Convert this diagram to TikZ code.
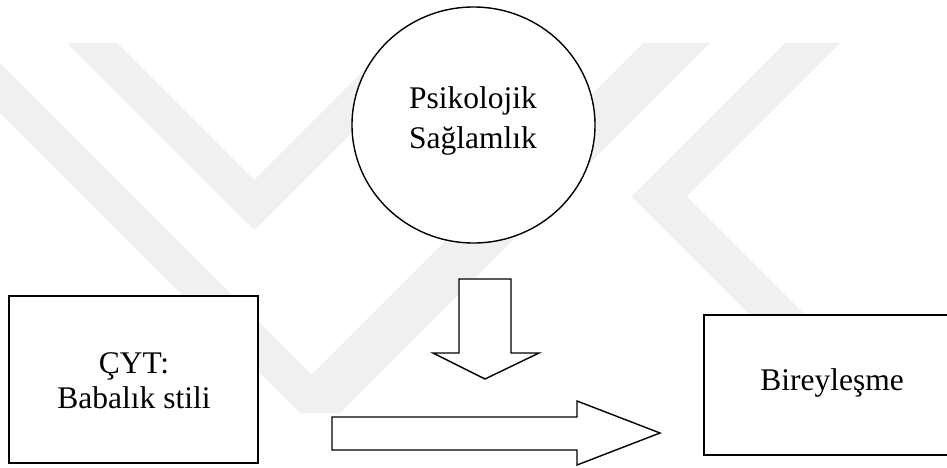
\documentclass[tikz,border=0pt]{standalone}
\usepackage{fontspec}
\setmainfont{Liberation Serif}
\usetikzlibrary{shapes.geometric}
\begin{document}
\begin{tikzpicture}[x=1pt,y=-1pt,
  wm/.style={fill=black!6,draw=none},
  blk/.style={draw=black,line width=1.4pt,fill=white},
  lbl/.style={font=\fontsize{31.5}{40}\selectfont,align=center,inner sep=0pt}]
\useasboundingbox (0,0) rectangle (947,468);
\fill[white] (0,0) rectangle (947,468);
% watermark
\begin{scope}
\clip (0,0) rectangle (947,468);
\fill[wm] (67,43) -- (117,43) -- (254,180) -- (391,43) -- (441,43) -- (254,230) -- cycle;
\fill[wm] (-70,43) -- (-20,43) -- (311.5,374.5) -- (643,43) -- (710,43) -- (340,413) -- (300,413) -- cycle;
\fill[wm] (785,43) -- (840,43) -- (686.5,196.5) -- (903,413) -- (848,413) -- (631.5,196.5) -- cycle;
\end{scope}
% nodes
\node[blk,ellipse,minimum width=243pt,minimum height=236pt,inner sep=0pt] (psy) at (473.5,125) {};
\node[lbl] (psytxt) at (473,121) {Psikolojik\\Sağlamlık};
\node[blk,rectangle,minimum width=249pt,minimum height=167pt,inner sep=0pt] (cyt) at (133.5,379.5) {};
\node[lbl] (cyttxt) at (134,381) {ÇYT:\\[-5pt]Babalık stili};
\begin{scope}
\clip (0,0) rectangle (947,468);
\node[blk,rectangle,minimum width=256pt,minimum height=140pt,inner sep=0pt] (bir) at (832,385) {};
\end{scope}
\node[lbl] (birtxt) at (832,383) {Bireyleşme};
% block arrows
\draw[blk,line join=miter] (459,279) -- (511,279) -- (511,353) -- (539,353) -- (485,379) -- (433,353) -- (459,353) -- cycle;
\draw[blk,line join=miter] (332,417) -- (577,417) -- (577,401) -- (660,433) -- (577,465) -- (577,450) -- (332,450) -- cycle;
\end{tikzpicture}
\end{document}
